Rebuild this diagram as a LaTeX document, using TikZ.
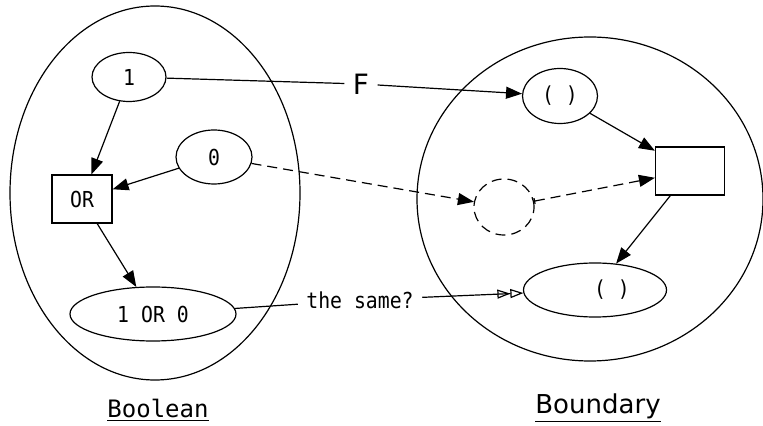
\documentclass[tikz,border=0pt]{standalone}
\usepackage{fontspec}
\setmainfont{DejaVu Sans}
\setmonofont{DejaVu Sans Mono}
\newfontfamily\codefont[FakeStretch=0.9]{DejaVu Sans Mono}
\usepackage{tikz}
\usetikzlibrary{arrows.meta,shapes.geometric}

\begin{document}
\begin{tikzpicture}[x=0.5pt,y=-0.5pt,
    line width=0.6pt,
    >={Triangle[length=8pt,width=6pt]},
    obj/.style={draw,ellipse,inner sep=0pt,font=\codefont\fontsize{11}{13}\selectfont},
    arr/.style={draw,rectangle,inner sep=0pt,font=\codefont\fontsize{11}{13}\selectfont},
    world/.style={draw,ellipse,inner sep=0pt},
    dsh/.style={dash pattern=on 5pt off 3pt},
    same tip/.style={-{Triangle[open,length=6.5pt,width=4.5pt]Triangle[open,length=6.5pt,width=4.5pt]}}]
  \useasboundingbox (0,0) rectangle (763,426);
  % the two categories
  \node[world,minimum width=145pt,minimum height=187pt] (bool) at (155,193) {};
  \node[world,minimum width=173pt,minimum height=162pt] (bdry) at (590,199) {};
  % boolean side
  \node[obj,minimum width=37pt,minimum height=24.5pt] (one) at (129,77) {1};
  \node[obj,minimum width=38pt,minimum height=27pt] (zero) at (214,157) {0};
  \node[arr,minimum width=30pt,minimum height=24pt] (or) at (82,199) {OR};
  \node[obj,minimum width=83pt,minimum height=27pt] (sum) at (153,314) {1 OR 0};
  % boundary side
  \node[obj,minimum width=37.5pt,minimum height=27.5pt] (tu) at (560,96) {( )};
  \node[arr,minimum width=34.5pt,minimum height=24pt] (jux) at (690,171) {};
  \node[obj,dsh,minimum width=30pt,minimum height=28pt] (gap) at (504,207) {};
  \node[obj,minimum width=71.5pt,minimum height=27pt] (res) at (595,290) {\hspace*{17pt}( )};
  % functor and question
  \node[font=\fontsize{14}{16}\selectfont,inner sep=4pt] (fmap) at (361,84) {F};
  \node[font=\codefont\fontsize{11}{13}\selectfont,inner sep=4pt] (same) at (360,300) {the same?};
  % names
  \node[font=\ttfamily\fontsize{12}{14}\selectfont] (bname) at (158,410) {\underline{Boolean}};
  \node[font=\fontsize{13}{15}\selectfont] (dname) at (598,408) {\underline{Boundary}};
  % arrows inside
  \draw[->] (one) -- (or);
  \draw[->] (zero) -- (or);
  \draw[->] (or) -- (sum);
  \draw[->] (tu) -- (jux);
  \draw[->] (jux) -- (res);
  % mapping across
  \draw (one) -- (fmap);
  \draw[->] (fmap) -- (tu);
  \draw[->,dsh] (zero) -- (gap);
  \draw[{Bar[width=3pt]}->,dsh] (gap) -- (jux);
  \draw (sum) -- (same);
  \draw[same tip] (same) -- (res);
\end{tikzpicture}
\end{document}
